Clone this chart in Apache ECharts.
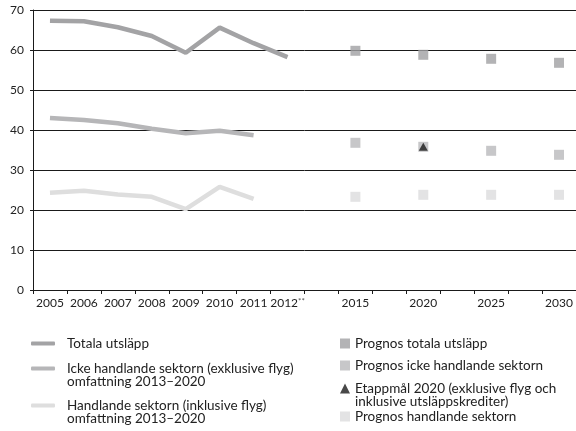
<!DOCTYPE html>
<html>
<head>
<meta charset="utf-8">
<script src="https://cdn.jsdelivr.net/npm/echarts@6/dist/echarts.min.js"></script>
<style>
html,body{margin:0;padding:0;background:#fff;}
#c{width:576px;height:431px;}
</style>
</head>
<body>
<div id="c"></div>
<script>
const categories = ['2005','2006','2007','2008','2009','2010','2011','2012**','','2015','','2020','','2025','','2030'];
const yTicks = [0, 10, 20, 30, 40, 50, 60, 70];

const totala     = [67.3, 67.2, 65.7, 63.5, 59.3, 65.6, 61.7, 58.2, null, null, null, null, null, null, null, null];
const icke       = [43.0, 42.5, 41.7, 40.3, 39.2, 39.8, 38.7, null, null, null, null, null, null, null, null, null];
const handlande  = [24.3, 24.8, 23.9, 23.3, 20.2, 25.8, 22.8, null, null, null, null, null, null, null, null, null];

const prognosTotala    = [null, null, null, null, null, null, null, null, null, 59.8, null, 58.8, null, 57.8, null, 56.8];
const prognosIcke      = [null, null, null, null, null, null, null, null, null, 36.8, null, 35.8, null, 34.8, null, 33.8];
const etappmal         = [null, null, null, null, null, null, null, null, null, null, null, 35.8, null, null, null, null];
const prognosHandlande = [null, null, null, null, null, null, null, null, null, 23.3, null, 23.8, null, 23.8, null, 23.8];

const names = {
  totala: 'Totala utsläpp',
  icke: 'Icke handlande sektorn (exklusive flyg) omfattning 2013–2020',
  handlande: 'Handlande sektorn (inklusive flyg) omfattning 2013–2020',
  pTotala: 'Prognos totala utsläpp',
  pIcke: 'Prognos icke handlande sektorn',
  etapp: 'Etappmål 2020 (exklusive flyg och inklusive utsläppskrediter)',
  pHandlande: 'Prognos handlande sektorn'
};

const col = {
  totala: '#a3a3a5',
  icke: '#b6b6b8',
  handlande: '#dedede',
  pTotala: '#a0a0a2',
  pIcke: '#b9b9bb',
  etapp: '#1a1a1a',
  pHandlande: '#dcdcdd'
};

const FONT = 'Lato';
const LH = 13;
const legendText = {fontFamily: FONT, fontSize: 13.5, color: '#222', lineHeight: LH};

function lineLegend(name, top, fmt) {
  return {
    show: true, orient: 'vertical', left: 31, top: top, padding: 0,
    data: [{name: name, icon: 'roundRect'}],
    itemWidth: 24, itemHeight: 4,
    textStyle: Object.assign({padding: [0, 0, 0, 7]}, legendText),
    formatter: fmt || '{name}',
    selectedMode: false
  };
}
function markLegend(name, icon, top, fmt) {
  return {
    show: true, orient: 'vertical', left: 340, top: top, padding: 0,
    data: [{name: name, icon: icon}],
    itemWidth: 10, itemHeight: 10,
    textStyle: Object.assign({}, legendText),
    formatter: fmt || '{name}',
    selectedMode: false
  };
}

const chart = echarts.init(document.getElementById('c'), null, {renderer: 'canvas'});
chart.setOption({
  animation: false,
  backgroundColor: '#fff',
  grid: {left: 33, top: 10, bottom: 141, width: 547, containLabel: false},
  xAxis: {
    type: 'category',
    data: categories,
    boundaryGap: true,
    axisLine: {lineStyle: {color: '#1a1a1a', width: 1}},
    axisTick: {show: true, interval: 0, length: 4, lineStyle: {color: '#1a1a1a'}},
    axisLabel: {
      interval: 0, margin: 7, color: '#222', fontFamily: FONT, fontSize: 12,
      formatter: function (v) {
        if (v.indexOf('**') >= 0) return v.replace('**', '') + '{s|**}';
        return v;
      },
      rich: {s: {fontSize: 8, verticalAlign: 'top', color: '#555', fontFamily: FONT, padding: [0, 0, 4, 0]}}
    },
    splitLine: {show: false}
  },
  yAxis: {
    type: 'value', min: yTicks[0], max: yTicks[yTicks.length - 1], interval: 10,
    axisLine: {show: true, lineStyle: {color: '#1a1a1a', width: 1}},
    axisTick: {show: true, length: 3, lineStyle: {color: '#1a1a1a'}},
    axisLabel: {margin: 9, color: '#222', fontFamily: FONT, fontSize: 12},
    splitLine: {show: true, lineStyle: {color: '#1a1a1a', width: 1}}
  },
  legend: [
    lineLegend(names.totala, 336.5),
    lineLegend(names.icke, 348.5, '\nIcke handlande sektorn (exklusive flyg)\nomfattning 2013–2020'),
    lineLegend(names.handlande, 385.5, '\nHandlande sektorn (inklusive flyg)\nomfattning 2013–2020'),
    markLegend(names.pTotala, 'rect', 336.5),
    markLegend(names.pIcke, 'rect', 358.5),
    markLegend(names.etapp, 'triangle', 368.5, '\nEtappmål 2020 (exklusive flyg och\ninklusive utsläppskrediter)'),
    markLegend(names.pHandlande, 'rect', 409.5)
  ],
  series: [
    {name: names.totala, type: 'line', data: totala, showSymbol: false, symbol: 'none', connectNulls: false,
     color: col.totala, lineStyle: {color: col.totala, width: 4.5}, itemStyle: {color: col.totala}, z: 3},
    {name: names.icke, type: 'line', data: icke, showSymbol: false, symbol: 'none',
     color: col.icke, lineStyle: {color: col.icke, width: 4.5}, itemStyle: {color: col.icke}, z: 3},
    {name: names.handlande, type: 'line', data: handlande, showSymbol: false, symbol: 'none',
     color: col.handlande, lineStyle: {color: col.handlande, width: 4.5}, itemStyle: {color: col.handlande}, z: 3},
    {name: names.pTotala, type: 'scatter', data: prognosTotala, symbol: 'rect', symbolSize: 10,
     itemStyle: {color: col.pTotala}, z: 4},
    {name: names.pIcke, type: 'scatter', data: prognosIcke, symbol: 'rect', symbolSize: 10,
     itemStyle: {color: col.pIcke}, z: 4},
    {name: names.etapp, type: 'scatter', data: etappmal, symbol: 'triangle', symbolSize: [9, 8],
     itemStyle: {color: col.etapp}, z: 5},
    {name: names.pHandlande, type: 'scatter', data: prognosHandlande, symbol: 'rect', symbolSize: 10,
     itemStyle: {color: col.pHandlande}, z: 4}
  ]
});
</script>
</body>
</html>
